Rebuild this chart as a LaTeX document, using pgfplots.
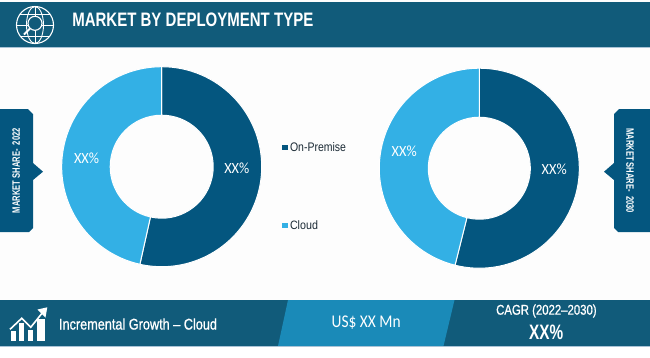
\documentclass[border=0pt]{standalone}
\usepackage{fontspec}
\setmainfont{Liberation Sans}
\newfontfamily\carlito{Carlito}
\newfontfamily\semi[FakeBold=1]{Liberation Sans}
\usepackage{graphicx}
\usepackage{pgfplots}
\usepackage{pgfplotstable}
\pgfplotsset{compat=1.18}
\definecolor{band}{HTML}{115B7A}
\definecolor{midband}{HTML}{1A8AB8}
\definecolor{dark}{HTML}{04567F}
\definecolor{cloud}{HTML}{33B0E5}
\definecolor{bgc}{HTML}{FDFDFD}
\definecolor{edgeline}{HTML}{A9C3D6}
\definecolor{txt}{HTML}{1C2B36}

% share of each deployment type, in per cent (2022, 2030)
\pgfplotstableread{
type share2022 share2030
OnPremise 53.5 53.9
Cloud 46.5 46.1
}\sharetable
\pgfplotstablegetelem{0}{share2022}\of\sharetable
\pgfmathsetmacro{\angA}{\pgfplotsretval*3.6}
\pgfplotstablegetelem{0}{share2030}\of\sharetable
\pgfmathsetmacro{\angB}{\pgfplotsretval*3.6}

% \sector{cx}{cy}{r out}{r in}{start}{end}{colour}
\newcommand{\sector}[7]{%
  \fill[#7,draw=white,line width=1pt]
    ([shift={(#5:#3pt)}]axis cs:#1,#2)
    arc[start angle=#5,end angle=#6,radius=#3pt]
    -- ([shift={(#6:#4pt)}]axis cs:#1,#2)
    arc[start angle=#6,end angle=#5,radius=#4pt] -- cycle;}
\newcommand{\fit}[5]{% x y w h text
  \node[inner sep=0pt,outer sep=0pt,white,anchor=center] at (axis cs:#1,#2) {\resizebox{#3pt}{#4pt}{#5}};}

\begin{document}
\begin{tikzpicture}
\begin{axis}[
  width=650pt,height=357pt,scale only axis,
  xmin=0,xmax=650,ymin=0,ymax=357,y dir=reverse,
  axis lines=none,ticks=none,clip=true]
% background
\fill[bgc] (axis cs:0,0) rectangle (axis cs:650,357);
% header
\fill[band] (axis cs:0,1.5) rectangle (axis cs:650,47);
\fill[edgeline] (axis cs:0,47) rectangle (axis cs:650,48);
% footer
\fill[band] (axis cs:0,300) rectangle (axis cs:650,346);
\fill[midband] (axis cs:288,300) -- (axis cs:454.5,300) -- (axis cs:443.5,346) -- (axis cs:278,346) -- cycle;
\fill[edgeline] (axis cs:0,346) rectangle (axis cs:650,347);
\fill[white] (axis cs:0,347) rectangle (axis cs:650,357);
% side tabs
\fill[dark] (axis cs:0,109) -- (axis cs:28,109) -- (axis cs:33,114) -- (axis cs:33,163) -- (axis cs:43,171.7)
  -- (axis cs:33,180) -- (axis cs:33,228) -- (axis cs:29,232) -- (axis cs:0,232) -- cycle;
\fill[dark] (axis cs:650,109) -- (axis cs:619,109) -- (axis cs:614,114) -- (axis cs:614,163) -- (axis cs:604,171.7)
  -- (axis cs:614,180) -- (axis cs:614,228) -- (axis cs:618,232) -- (axis cs:650,232) -- cycle;
% donuts
\sector{161.7}{166.7}{100}{51.5}{90}{90-\angA}{dark}
\sector{161.7}{166.7}{100}{51.5}{90-\angA}{-270}{cloud}
\sector{479.3}{168.2}{100}{51}{90}{90-\angB}{dark}
\sector{479.3}{168.2}{100}{51}{90-\angB}{-270}{cloud}
% donut labels
\fit{236.8}{168}{25}{10.6}{\carlito XX\%}
\fit{86.5}{158.7}{25}{10.6}{\carlito XX\%}
\fit{554.2}{169.7}{25}{10.6}{\carlito XX\%}
\fit{404.2}{151.2}{25}{10.6}{\carlito XX\%}
% legend
\addplot[only marks,mark=square*,mark size=2.3pt,color=dark] coordinates {(284.7,147.2)};
\addplot[only marks,mark=square*,mark size=2.3pt,color=cloud] coordinates {(284.7,225.2)};
\node[inner sep=0pt,anchor=center,txt] at (axis cs:318,147.2) {\resizebox{56pt}{9pt}{On-Premise}};
\node[inner sep=0pt,anchor=center,txt] at (axis cs:304,225) {\resizebox{28pt}{8.8pt}{Cloud}};
% texts
\fit{192.8}{20.2}{241}{13.6}{\bfseries MARKET BY DEPLOYMENT TYPE}
\fit{138}{324}{158}{11.2}{\semi Incremental Growth – Cloud}
\fit{366.2}{323}{69}{11.6}{\carlito US\$ XX Mn}
\fit{546.4}{311}{100.5}{10.2}{\semi CAGR (2022–2030)}
\fit{546.2}{332.2}{34}{14.5}{\bfseries XX\%}
\node[inner sep=0pt,rotate=90,white] at (axis cs:16.2,170.7) {\resizebox{85pt}{7.5pt}{\bfseries MARKET SHARE-\ \ 2022}};
\node[inner sep=0pt,rotate=-90,white] at (axis cs:630,170.7) {\resizebox{85pt}{7.5pt}{\bfseries MARKET SHARE-\ \ 2030}};
% globe icon
\draw[white,line width=1.1pt] (axis cs:35,25) circle[radius=18.5pt];
\draw[white,line width=0.9pt] (axis cs:35,25) circle[x radius=8.5pt,y radius=18.5pt];
\draw[white,line width=0.9pt] (axis cs:35,6.5) -- (axis cs:35,43.5);
\draw[white,line width=0.9pt] (axis cs:16.5,25) -- (axis cs:53.5,25);
\draw[white,line width=0.9pt] (axis cs:20,14) -- (axis cs:50,14);
\draw[white,line width=0.9pt] (axis cs:20,36) -- (axis cs:50,36);
\fill[band,draw=white,line width=1.1pt] (axis cs:35,23.3) circle[radius=7pt];
\draw[white,line width=2pt] (axis cs:30,28.5) -- (axis cs:24,34.5);
% growth icon
\fill[white] (axis cs:10.7,331) rectangle (axis cs:15.7,340.7);
\fill[white] (axis cs:19.3,323) rectangle (axis cs:24.3,340.7);
\fill[white] (axis cs:28.3,329.5) rectangle (axis cs:33.3,340.7);
\fill[white] (axis cs:37,318.5) rectangle (axis cs:45,340.7);
\draw[white,line width=1.6pt] (axis cs:10,329.3) -- (axis cs:21.7,318.3) -- (axis cs:30.7,327.3) -- (axis cs:43,312);
\fill[white] (axis cs:37.5,309.5) -- (axis cs:47.3,307.3) -- (axis cs:45.5,317.5) -- cycle;
\end{axis}
\end{tikzpicture}
\end{document}
